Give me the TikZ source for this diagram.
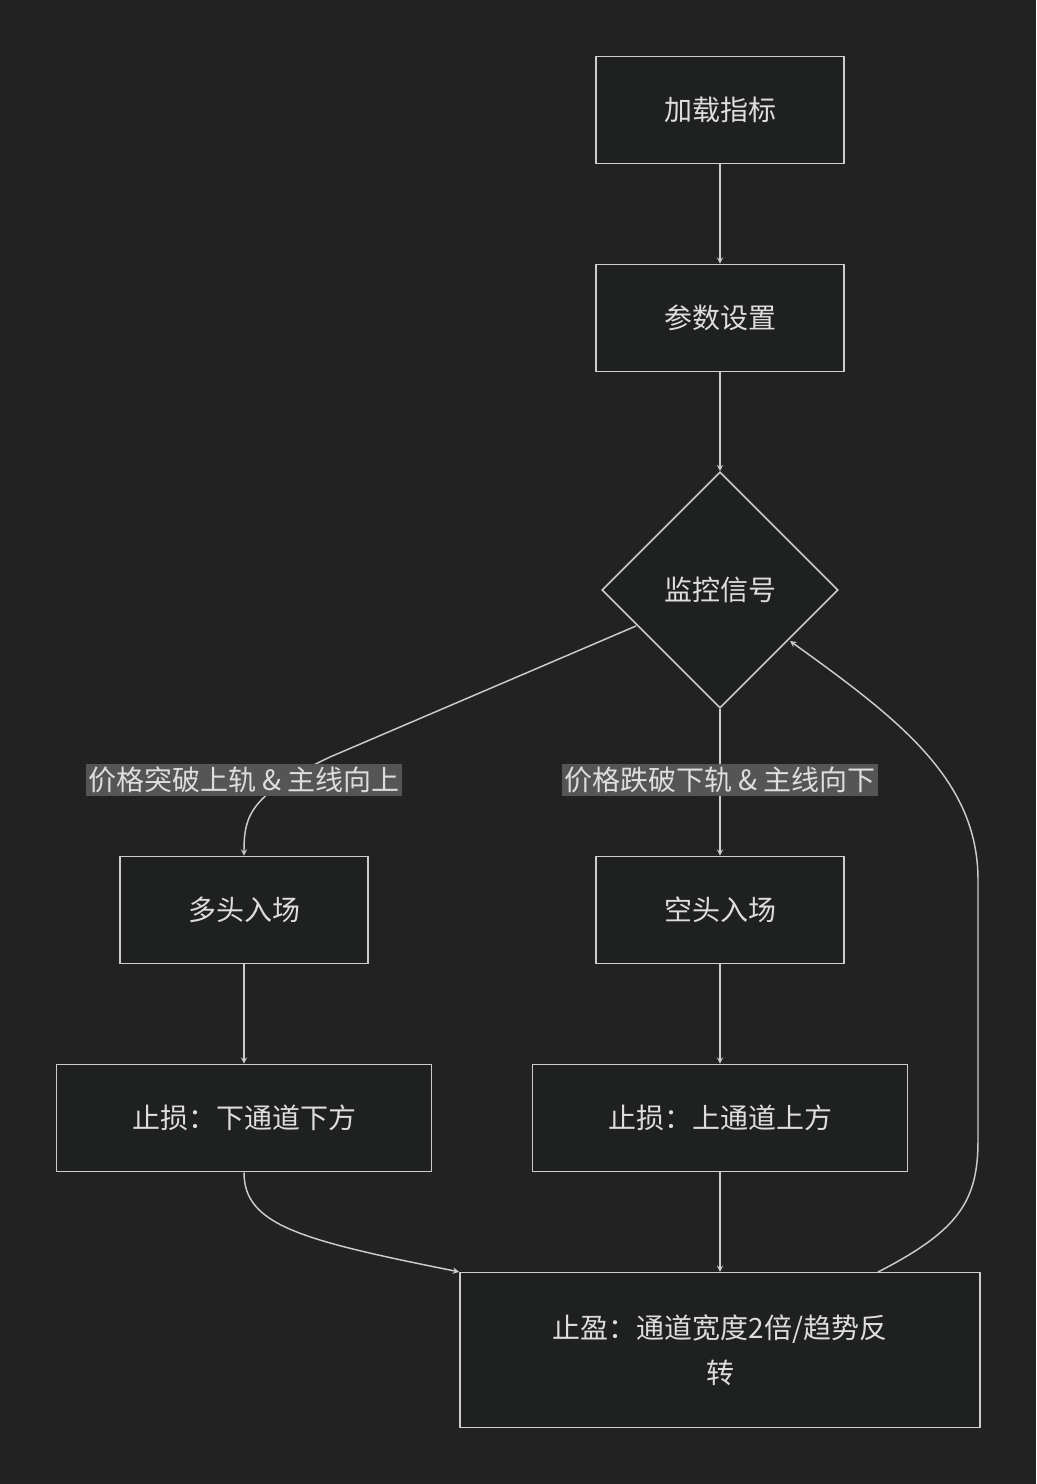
\documentclass[tikz,border=0pt]{standalone}
\usepackage{fontspec}
\setmainfont{Noto Sans CJK SC}
\usepackage{xcolor}
\usetikzlibrary{shapes.geometric,arrows,calc}
\definecolor{bgcol}{HTML}{222222}
\definecolor{boxcol}{HTML}{1F2020}
\definecolor{linecol}{HTML}{CCCCCC}
\definecolor{txtcol}{HTML}{DDDDDD}
\definecolor{lblcol}{HTML}{555555}
\tikzset{
  box/.style={draw=linecol,fill=boxcol,line width=1.2pt,text=txtcol,minimum height=80.25pt,inner sep=0pt,align=center,font=\fontsize{21}{34}\selectfont},
  dia/.style={diamond,draw=linecol,fill=boxcol,line width=1.2pt,text=txtcol,minimum width=177pt,minimum height=177pt,inner sep=0pt,aspect=1,font=\fontsize{21}{28}\selectfont},
  lbl/.style={fill=lblcol,text=txtcol,inner sep=2pt,font=\fontsize{21}{28}\selectfont},
  edge/.style={draw=linecol,line width=1.1pt,->,>=stealth}
}
\begin{document}
\begin{tikzpicture}[x=0.75pt,y=-0.75pt]
  \fill[bgcol] (0,0) rectangle (1036,1484);
  \useasboundingbox (0,0) rectangle (1036,1484);
  \node[box,minimum width=186pt] (load) at (720,110) {加载指标};
  \node[box,minimum width=186pt] (param) at (720,318) {参数设置};
  \node[dia] (monitor) at (720,590) {监控信号};
  \node[box,minimum width=186pt] (long) at (244,910) {多头入场};
  \node[box,minimum width=186pt] (short) at (720,910) {空头入场};
  \node[box,minimum width=281pt] (sllong) at (244,1118) {止损：下通道下方};
  \node[box,minimum width=281pt] (slshort) at (720,1118) {止损：上通道上方};
  \node[box,minimum width=390pt,minimum height=116pt] (tp) at (720,1350) {止盈：通道宽度2倍/趋势反\\转};
  \coordinate (mleft) at (636,626);
  \coordinate (tpout) at (878,1272);
  \coordinate (mright) at (790,641);
  % edges
  \draw[edge] (load) -- (param);
  \draw[edge] (param) -- (monitor);
  \draw[edge] (mleft) -- (330,757) .. controls (250,795) and (244,815) .. (long.north);
  \draw[edge] (monitor) -- (short);
  \draw[edge] (long) -- (sllong);
  \draw[edge] (short) -- (slshort);
  \draw[edge] (sllong.south) .. controls (244,1225) and (300,1240) .. (tp.north west);
  \draw[edge] (slshort) -- (tp);
  \draw[edge] (tpout) .. controls (960,1230) and (978,1200) .. (978,1140) -- (978,880) .. controls (978,780) and (900,720) .. (mright);
  % labels
  \node[lbl] (lbllong) at (244,780) {价格突破上轨 \& 主线向上};
  \node[lbl] (lblshort) at (720,780) {价格跌破下轨 \& 主线向下};
\end{tikzpicture}
\end{document}
